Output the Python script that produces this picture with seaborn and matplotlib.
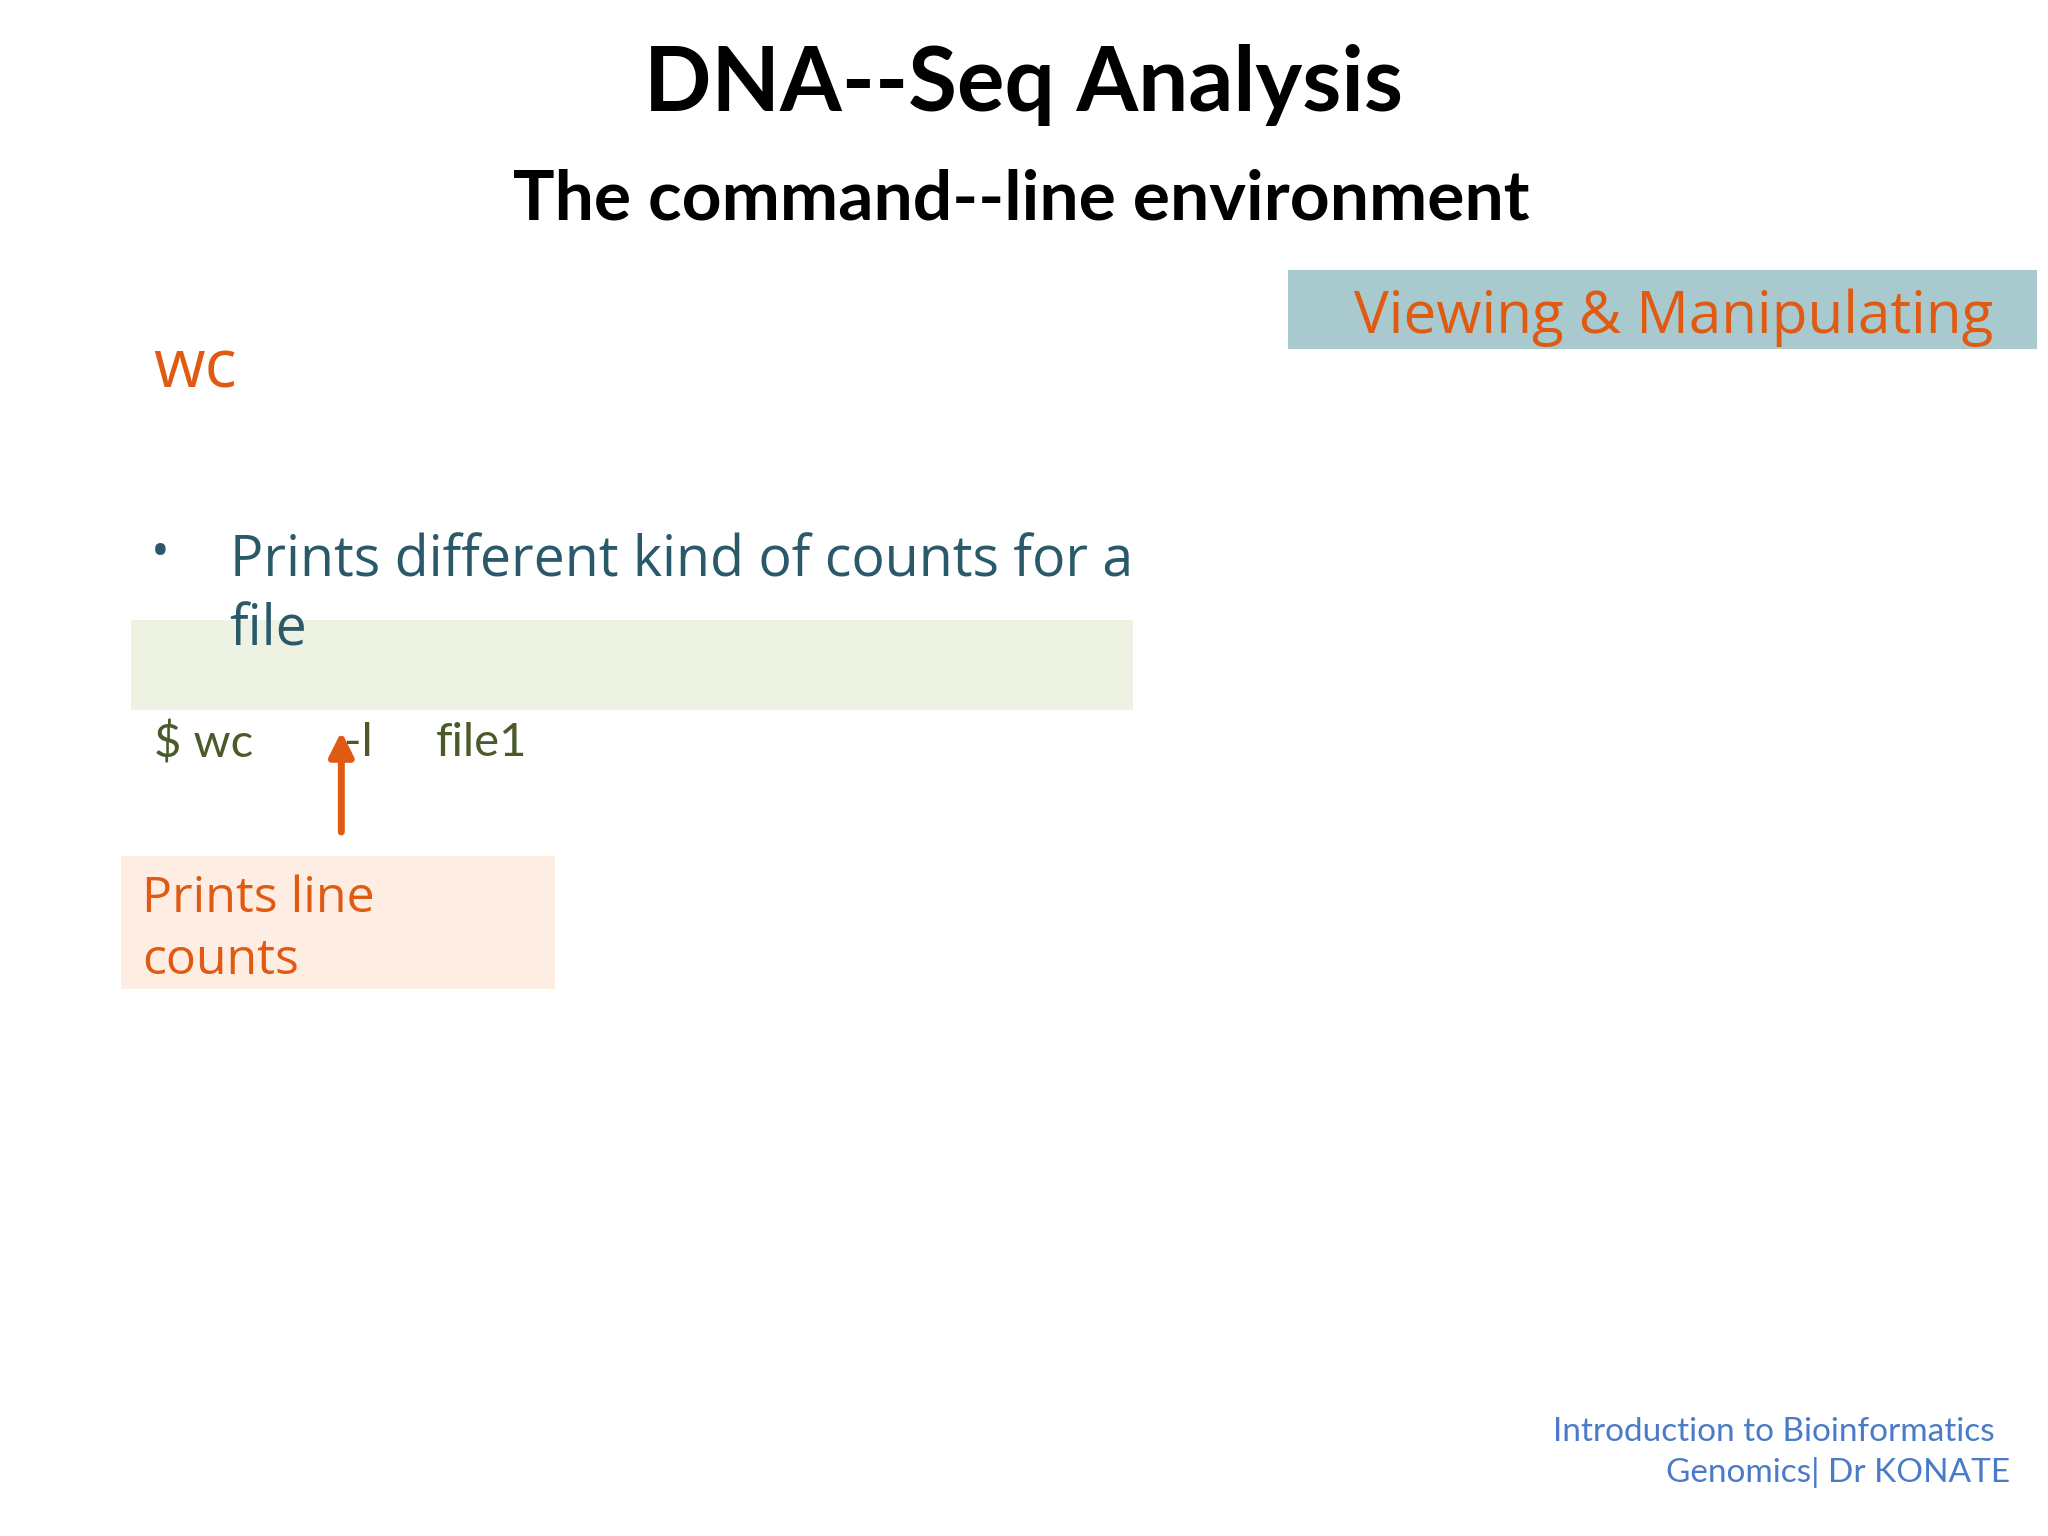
import matplotlib
matplotlib.use("Agg")
import matplotlib.pyplot as plt
import seaborn as sns
from matplotlib.patches import Rectangle

sns.set_style("white")
plt.rcParams['font.family'] = ['Open Sans', 'DejaVu Sans']

title = "DNA--Seq Analysis"
subtitle = "The command--line environment"
section_tag = "Viewing & Manipulating"
command_name = "wc"
bullet_lines = ["Prints different kind of counts for a", "file"]
command_parts = ["$ wc", "-l", "file1"]
callout_lines = ["Prints line", "counts"]
footer_lines = ["Introduction to Bioinformatics ", "Genomics| Dr KONATE"]

ORANGE = "#e05a12"
W, H = 1560, 1170

fig = plt.figure(figsize=(10.24, 7.68), dpi=200)
ax = fig.add_axes([0, 0, 1, 1])
ax.set_xlim(0, W)
ax.set_ylim(H, 0)
ax.axis("off")

ax.text(780, 65, title, ha="center", va="center", fontsize=32, fontweight="bold",
        family=["Lato", "DejaVu Sans"], color="black")
ax.text(778, 152, subtitle, ha="center", va="center", fontsize=25, fontweight="bold",
        family=["Lato", "DejaVu Sans"], color="black")

ax.add_patch(Rectangle((981, 206), 571, 60, color="#a8c9cd", lw=0))
ax.text(1518, 242, section_tag, ha="right", va="center", fontsize=21, color=ORANGE)

ax.text(117, 282, command_name, ha="left", va="center", fontsize=24, color=ORANGE)

ax.add_patch(Rectangle((100, 472), 763, 69, color="#eef2e3", lw=0))
ax.text(115, 422, "•", ha="left", va="center", fontsize=18, color="#2a5a6a")
for i, line in enumerate(bullet_lines):
    ax.text(175, 428 + 53 * i, line, ha="left", va="center", fontsize=20, color="#2a5a6a")

cmd_x = [117, 262, 332]
for x, part in zip(cmd_x, command_parts):
    ax.text(x, 566, part, ha="left", va="center", fontsize=17, color="#4a5a28",
            family=["Lato", "DejaVu Sans"])

ax.annotate("", xy=(260, 553), xytext=(260, 638),
            arrowprops=dict(arrowstyle="-|>", color=ORANGE, lw=2.5, mutation_scale=18))

ax.add_patch(Rectangle((92, 652), 331, 101, color="#fdede3", lw=0))
for i, line in enumerate(callout_lines):
    ax.text(108, 685 + 47 * i, line, ha="left", va="center", fontsize=18, color=ORANGE)

ax.text(1526, 1091, footer_lines[0], ha="right", va="center", fontsize=12,
        color="#4a7ac8", family=["Lato", "DejaVu Sans"])
ax.text(1531, 1122, footer_lines[1], ha="right", va="center", fontsize=12,
        color="#4a7ac8", family=["Lato", "DejaVu Sans"])

fig.savefig("out.png", dpi=200, facecolor="white")
